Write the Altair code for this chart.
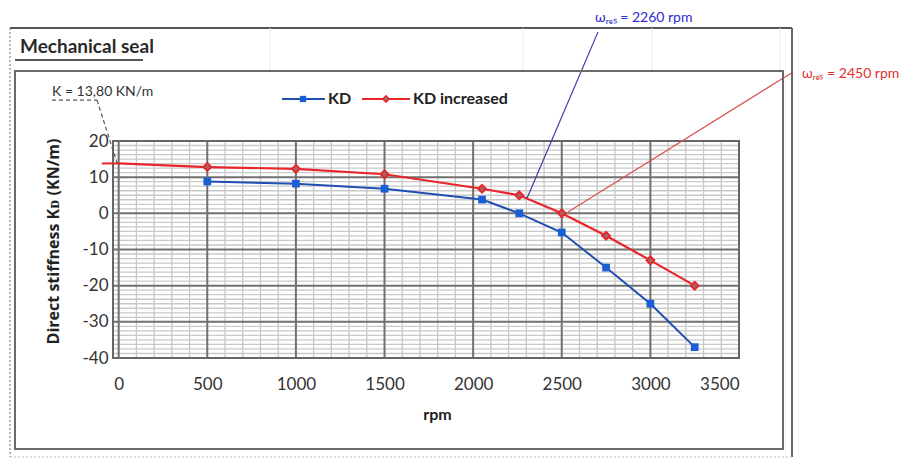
import altair as alt
import numpy as np
import pandas as pd

# Direct stiffness of the mechanical seal versus shaft speed
rpm = [500, 1000, 1500, 2050, 2260, 2500, 2750, 3000, 3250]
kd = [8.8, 8.2, 6.8, 3.8, 0.0, -5.3, -15.0, -25.0, -37.0]
kd_increased = [12.8, 12.3, 10.8, 6.8, 5.0, 0.0, -6.2, -13.0, -20.0]
k_static = 13.8  # KN/m at 0 rpm

x_ticks = [0, 500, 1000, 1500, 2000, 2500, 3000, 3500]
y_ticks = [-40, -30, -20, -10, 0, 10, 20]

series_names = ["KD", "KD increased"]
series_colors = ["#1f4fb0", "#e8262a"]

W, H = 626, 217
FONT = "Lato"

xs = alt.Scale(domain=[-32, 3500], nice=False, zero=False)
ys = alt.Scale(domain=[-40, 20], nice=False, zero=False)

x_axis = alt.Axis(values=x_ticks, format="d", grid=False, ticks=False, domain=False,
                  labelFont=FONT, labelFontSize=17, labelColor="#333",
                  labelPadding=26, labelBaseline="middle",
                  title="rpm", titleFont=FONT, titleFontSize=16,
                  titleFontWeight="bold", titleColor="#222",
                  titleX=324, titleY=56, titleBaseline="middle")
y_axis = alt.Axis(values=y_ticks, labelExpr="replace(datum.label, '\u2212', '-')",
                  grid=False, ticks=False, domain=False,
                  labelFont=FONT, labelFontSize=17, labelColor="#333",
                  labelPadding=5,
                  title="Direct  stiffness  K\u1d05 (KN/m)", titleFont="Open Sans",
                  titleFontSize=16, titleFontWeight="bold", titleColor="#222",
                  titleX=-60, titleY=100, titleBaseline="middle", titleAngle=-90)


def X(field):
    return alt.X(field, type="quantitative", scale=xs, axis=x_axis)


def Y(field):
    return alt.Y(field, type="quantitative", scale=ys, axis=y_axis)


blue_df = pd.DataFrame({"rpm": rpm, "k": kd})
red_df = pd.DataFrame({"rpm": [0] + rpm, "k": [k_static] + kd_increased})
red_pts = pd.DataFrame({"rpm": rpm, "k": kd_increased})

one = alt.Data(values=[{}])

# ---- grid -----------------------------------------------------------
minor_x = pd.DataFrame({"rpm": [v for v in range(0, 3500, 100) if v % 500]})
minor_y = pd.DataFrame({"k": [v for v in np.arange(-40, 20, 1.25) if v % 10]})
major_x = pd.DataFrame({"rpm": [v for v in x_ticks if v < 3500]})
major_y = pd.DataFrame({"k": [v for v in y_ticks if -40 < v < 20]})

g_minor_x = alt.Chart(minor_x).mark_rule(color="#c6c6c6", strokeWidth=1.3).encode(
    x=X("rpm"), y=alt.value(0), y2=alt.value(H))
g_minor_y = alt.Chart(minor_y).mark_rule(color="#c9c9c9", strokeWidth=1.3).encode(
    y=Y("k"), x=alt.value(0), x2=alt.value(W))
g_major_x = alt.Chart(major_x).mark_rule(color="#707070", strokeWidth=2).encode(
    x=X("rpm"), y=alt.value(0), y2=alt.value(H))
g_major_y = alt.Chart(major_y).mark_rule(color="#707070", strokeWidth=2).encode(
    y=Y("k"), x=alt.value(0), x2=alt.value(W))

# ---- series ---------------------------------------------------------
blue_line = alt.Chart(blue_df).mark_line(color=series_colors[0], strokeWidth=2).encode(
    x=X("rpm"), y=Y("k"))
blue_pts = alt.Chart(blue_df).mark_point(
    shape="square", filled=True, color="#1a5fd6", size=60, opacity=1).encode(
    x=X("rpm"), y=Y("k"))

k_ext_df = pd.DataFrame({"rpm": [-95], "rpm2": [0], "k": [k_static]})
k_ext = alt.Chart(k_ext_df).mark_rule(color=series_colors[1], strokeWidth=2).encode(
    x=X("rpm"), x2="rpm2", y=Y("k"))
red_line = alt.Chart(red_df).mark_line(color=series_colors[1], strokeWidth=2.2).encode(
    x=X("rpm"), y=Y("k"))
red_mk = alt.Chart(red_pts).mark_point(
    shape="diamond", filled=True, fill="#9a6a6a", stroke=series_colors[1],
    strokeWidth=2, size=60, opacity=1).encode(x=X("rpm"), y=Y("k"))

# ---- annotations (in rpm / KN/m units) -------------------------------
def seg(x1, y1, x2, y2, color, width=1.2, dash=None):
    kw = dict(color=color, strokeWidth=width)
    if dash:
        kw["strokeDash"] = dash
    d = pd.DataFrame({"rpm": [x1], "k": [y1], "rpm2": [x2], "k2": [y2]})
    return alt.Chart(d).mark_rule(**kw).encode(
        x=X("rpm"), y=Y("k"), x2="rpm2", y2="k2")


def note(x, y, text, color, size=14):
    d = pd.DataFrame({"rpm": [x], "k": [y], "label": [text]})
    return alt.Chart(d).mark_text(
        align="left", baseline="middle", color=color, fontSize=size,
        font=FONT).encode(x=X("rpm"), y=Y("k"), text="label:N")


k_note = note(-376, 33.5, "K = 13,80 KN/m", "#333", 14)
k_under = seg(-376, 31.3, -122, 31.3, "#555", 1.2, [4, 3])
k_lead = seg(-122, 31.3, -9, 13.9, "#555", 1.2, [4, 3])

blue_note = note(2688, 54.0, "\u03c9\u1d63\u2091\u209b = 2260 rpm", "#2b2bd0", 14)
blue_lead = seg(2704, 50.1, 2304, 4.2, "#3a3aa8")
red_note = note(3855, 38.5, "\u03c9\u1d63\u2091\u209b = 2450 rpm", "#e03030", 14)
red_lead = seg(3805, 39.1, 2535, 0.4, "#d85050")

# ---- frames, title, legend (pixel offsets from the plot origin) ------
def px_rule(x1, y1, x2, y2, color, width=2, dash=None):
    kw = dict(color=color, strokeWidth=width)
    if dash:
        kw["strokeDash"] = dash
    return alt.Chart(one).mark_rule(**kw).encode(
        x=alt.value(x1), y=alt.value(y1), x2=alt.value(x2), y2=alt.value(y2))


frames = [
    px_rule(-103, -113, 679, -113, "#555", 2),
    px_rule(679, -113, 679, 316, "#666", 2),
    px_rule(-103, -113, -103, 316, "#888", 1.2, [2, 2]),
    px_rule(-103, 316, 679, 316, "#bbb", 1.2, [2, 2]),
    px_rule(157, -113, 157, -71, "#ececec", 1),
    px_rule(410, -113, 410, -71, "#ececec", 1),
    px_rule(539, -113, 539, -71, "#ececec", 1),
    px_rule(667, -113, 667, -71, "#ececec", 1),
    px_rule(-98, -81, 30, -81, "#555", 2),
]
inner = alt.Chart(one).mark_rect(fill="transparent", stroke="#6a6a6a", strokeWidth=2).encode(
    x=alt.value(-98), x2=alt.value(670), y=alt.value(-70), y2=alt.value(308))
plot_border = alt.Chart(one).mark_rect(fill="transparent", stroke="#666", strokeWidth=2).encode(
    x=alt.value(0), x2=alt.value(W), y=alt.value(0), y2=alt.value(H))

title = alt.Chart(one).mark_text(
    align="left", baseline="middle", font=FONT, fontSize=19, fontWeight="bold",
    color="#2a2a2a").encode(
    x=alt.value(-93), y=alt.value(-94), text=alt.value("Mechanical seal"))

leg_y = -42
legend = [
    px_rule(169, leg_y, 212, leg_y, series_colors[0], 2),
    alt.Chart(one).mark_point(shape="square", filled=True, color="#1a5fd6", size=40, opacity=1)
    .encode(x=alt.value(190), y=alt.value(leg_y)),
    alt.Chart(one).mark_text(align="left", baseline="middle", font=FONT, fontSize=16,
                             fontWeight="bold", color="#222")
    .encode(x=alt.value(215), y=alt.value(leg_y), text=alt.value(series_names[0])),
    px_rule(249, leg_y, 297, leg_y, series_colors[1], 2),
    alt.Chart(one).mark_point(shape="diamond", filled=True, fill="#9a6a6a",
                              stroke=series_colors[1], strokeWidth=1.5, size=40, opacity=1)
    .encode(x=alt.value(273), y=alt.value(leg_y)),
    alt.Chart(one).mark_text(align="left", baseline="middle", font=FONT, fontSize=16,
                             fontWeight="bold", color="#222")
    .encode(x=alt.value(300), y=alt.value(leg_y), text=alt.value(series_names[1])),
]

chart = alt.layer(
    g_minor_x, g_minor_y, g_major_x, g_major_y, plot_border,
    k_ext, blue_line, red_line, blue_pts, red_mk,
    k_note, k_under, k_lead, blue_note, blue_lead, red_note, red_lead,
    *frames, inner, title, *legend,
).properties(
    width=W, height=H,
    padding={"left": 113, "top": 141, "right": 169, "bottom": 104},
    autosize=alt.AutoSizeParams(type="none"),
).configure_view(stroke=None)

chart.save("out.html", embed_options={"renderer": "svg", "actions": False})
